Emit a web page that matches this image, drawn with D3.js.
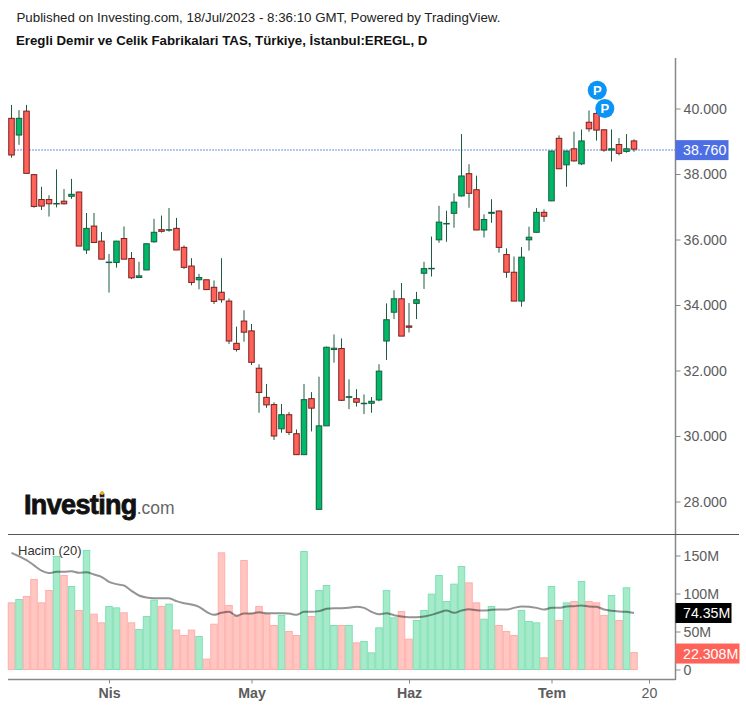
<!DOCTYPE html>
<html>
<head>
<meta charset="utf-8">
<script src="https://cdn.jsdelivr.net/npm/d3@7"></script>
<style>
  body { margin: 0; background: #fff; }
  text { font-family: "Liberation Sans", Arial, sans-serif; }
  .domain { display: none; }
  .tick line { stroke: #888; }
  .tick text { font-size: 14.2px; fill: #5c5c5c; }
</style>
</head>
<body>
<div id="chart"></div>
<script>
// candle values
var opens = [39.70,39.19,39.92,37.98,37.22,37.22,37.09,37.17,37.32,37.45,35.68,36.41,35.95,35.30,35.30,36.03,35.42,34.84,35.07,35.93,36.30,36.29,36.34,35.76,35.19,34.77,34.77,34.54,34.39,34.12,32.83,33.51,33.21,32.07,31.18,30.96,30.22,30.65,30.07,29.43,31.14,27.76,30.31,32.64,32.67,31.18,31.14,30.99,31.00,31.10,32.90,33.78,34.19,33.36,34.05,34.97,35.11,35.99,36.48,36.80,37.33,38.01,37.52,36.29,36.80,36.87,35.54,35.00,34.12,35.99,36.22,36.83,37.18,39.09,38.28,38.77,38.31,39.58,39.85,39.35,38.73,38.90,38.69,39.01];
var highs = [40.11,39.95,40.11,37.99,37.61,37.35,38.14,37.54,37.85,37.46,36.81,36.81,36.23,35.56,35.96,36.40,35.62,35.32,35.88,36.63,36.73,36.96,36.66,35.82,35.43,34.95,34.78,34.75,35.43,34.20,33.34,33.84,33.42,32.19,31.59,31.03,30.98,30.73,30.20,31.59,31.34,31.81,32.73,33.10,32.98,31.73,31.43,31.27,31.19,32.19,34.05,34.45,34.67,34.06,34.40,35.32,36.09,37.03,36.88,37.41,39.22,38.30,37.95,36.77,37.23,36.88,35.73,35.48,35.77,36.39,36.96,36.92,38.71,39.18,38.71,39.29,39.36,39.94,39.90,39.36,39.36,39.10,39.22,39.06];
var lows = [38.50,38.89,38.02,36.97,36.90,36.70,36.98,37.07,37.24,35.80,35.56,35.90,35.40,34.38,35.14,35.40,34.79,34.83,35.07,35.90,36.21,36.24,35.68,35.10,34.60,34.48,34.46,34.03,34.07,32.81,32.58,32.88,32.17,30.71,30.86,29.88,30.10,30.03,29.42,29.42,30.14,27.76,30.31,32.24,31.07,30.82,30.90,30.67,30.71,31.06,32.32,33.57,33.05,33.16,33.57,34.49,34.87,35.90,35.93,36.36,37.31,36.97,36.29,36.06,36.51,35.60,34.83,34.12,33.95,35.66,36.21,36.54,37.17,38.15,37.61,38.38,38.27,39.29,39.02,38.68,38.38,38.57,38.65,38.68];
var closes = [38.58,39.70,38.02,37.01,37.02,37.09,37.10,37.09,37.38,35.80,36.34,35.91,35.40,35.31,35.95,35.40,34.83,34.89,35.87,36.22,36.25,36.30,35.68,35.15,34.69,34.84,34.47,34.11,34.16,32.90,32.64,33.17,32.25,31.33,30.95,30.00,30.65,30.11,29.43,31.11,30.85,30.31,32.71,32.68,31.09,31.20,31.03,31.00,31.06,31.98,33.55,34.19,33.05,33.32,34.16,35.11,35.12,36.53,36.49,37.14,37.94,37.41,36.29,36.61,36.83,35.76,35.00,34.12,35.46,36.07,36.83,36.71,38.70,38.16,38.70,38.40,39.01,39.38,39.34,38.73,38.77,38.63,38.77,38.76];

// volume in millions and its 20 day average
var volumes = [87.7,92.1,96.1,118.4,87.7,103.9,148.7,123.7,109.2,77.6,156.6,72.8,61.4,82.9,81.1,74.6,61.4,52.6,69.7,91.2,82.9,86.0,51.8,44.7,51.8,43.4,13.6,59.6,153.5,84.2,70.2,143.4,73.2,82.9,72.8,57.9,71.1,50.0,44.7,155.3,69.7,103.9,110.5,57.9,57.9,57.9,35.1,36.8,21.9,54.8,103.9,68.0,76.3,39.9,64.5,77.6,99.1,123.7,89.5,112.3,135.5,114.0,87.7,66.2,82.9,57.9,50.0,44.7,77.6,63.2,61.4,15.4,109.2,64.5,87.7,89.5,115.8,89.5,87.7,71.1,97.4,64.5,107.5,22.3];
var volumeAvg = [153.5,149,144,137,130,127,128.5,128.5,129.4,127.2,128,125,122,115.4,112.3,110.5,103.5,97.4,94.7,93.9,93.9,93.9,89.9,87.3,85.5,82.5,75.9,71.9,74.6,75.9,70.6,73.7,73.7,75.4,74.1,74.1,74.1,73.7,71.9,75.9,75.9,76.8,79.8,80.7,80.7,81.1,82.5,81.1,75.9,72.8,74.1,71.5,69.7,68.9,68.9,69.7,71.9,75,77.6,74.6,77.6,79.4,78,77.6,78.5,78.9,78.9,81.1,82.9,82.5,81.1,78.9,81.1,81.1,82.9,83.3,84.2,82.9,82.5,78.9,77.2,76.3,75.9,74.35];

var priceTicks = [28,30,32,34,36,38,40];
var volumeTicks = [0,50,100,150];
var dateTicks = [13,32,53,72,85];
var dateLabels = ["Nis","May","Haz","Tem","20"];
var lastPrice = 38.76;
var lastVolume = 22.308;
var lastAvg = 74.35;
var pinIndex = [78,79];
var pinPrice = [40.56,40.0];

var svgWidth = 746;
var svgHeight = 707;
var axisX = 675.5;

var svg = d3.select("#chart")
  .append("svg")
  .attr("width", svgWidth)
  .attr("height", svgHeight)
  .style("display", "block");

// scales
var x = d3.scaleLinear().domain([0, 83]).range([11.5, 634]);
var y = d3.scaleLinear().domain([28, 40]).range([501.5, 108.5]);
var yVol = d3.scaleLinear().domain([0, 150]).range([669.5, 555.5]);

// header
svg.append("text").attr("x", 16.5).attr("y", 22)
  .style("font-size", "13.3px").attr("fill", "#222")
  .text("Published on Investing.com, 18/Jul/2023 - 8:36:10 GMT, Powered by TradingView.");
svg.append("text").attr("x", 16).attr("y", 45)
  .style("font-size", "13.25px").style("font-weight", "bold").attr("fill", "#111")
  .text("Eregli Demir ve Celik Fabrikalari TAS, Türkiye, İstanbul:EREGL, D");

// volume bars
var volGroup = svg.append("g").style("filter", "blur(0.3px)");
volGroup.selectAll("rect")
  .data(volumes)
  .enter()
  .append("rect")
  .attr("x", (d, i) => x(i) - 3.25)
  .attr("width", 6.5)
  .attr("y", d => yVol(d))
  .attr("height", d => yVol(0) - yVol(d))
  .attr("fill", (d, i) => closes[i] >= opens[i] ? "#a5ebc9" : "#ffc6c2")
  .attr("stroke", (d, i) => closes[i] >= opens[i] ? "#7fe0b5" : "#ffaeaa")
  .attr("stroke-width", 1);

// volume average
svg.append("path")
  .datum(volumeAvg)
  .attr("fill", "none")
  .attr("stroke", "#000")
  .attr("stroke-opacity", 0.42)
  .attr("stroke-width", 2)
  .attr("d", d3.line().x((d, i) => x(i)).y(d => yVol(d)).curve(d3.curveMonotoneX));

svg.append("text").attr("x", 18).attr("y", 555)
  .style("font-size", "13px").attr("fill", "#333")
  .text("Hacim (20)");

// last price line
svg.append("line")
  .attr("x1", 8).attr("x2", axisX)
  .attr("y1", y(lastPrice) + 0.9).attr("y2", y(lastPrice) + 0.9)
  .attr("stroke", "#6f8cea")
  .attr("stroke-width", 1.2)
  .attr("stroke-dasharray", "2,1");

// candles
var candles = svg.append("g").style("filter", "blur(0.4px)");
var idx = d3.range(opens.length);

candles.selectAll(".wick")
  .data(idx)
  .enter()
  .append("line")
  .attr("class", "wick")
  .attr("x1", d => x(d)).attr("x2", d => x(d))
  .attr("y1", d => y(highs[d])).attr("y2", d => y(lows[d]))
  .attr("stroke", "#1e5c41")
  .attr("stroke-width", 1);

candles.selectAll(".body")
  .data(idx)
  .enter()
  .append("rect")
  .attr("class", "body")
  .attr("x", d => x(d) - 2.75)
  .attr("width", 5.5)
  .attr("y", d => y(Math.max(opens[d], closes[d])))
  .attr("height", d => Math.max(0.5, Math.abs(y(opens[d]) - y(closes[d]))))
  .attr("fill", d => closes[d] >= opens[d] ? "#00b868" : "#ff6259")
  .attr("stroke", d => closes[d] >= opens[d] ? "#115f3e" : "#7c1f1f")
  .attr("stroke-width", 1);

// P markers
var pins = svg.selectAll(".pin")
  .data(pinIndex)
  .enter()
  .append("g")
  .attr("class", "pin")
  .attr("transform", (d, i) => `translate(${x(d) + 0.8}, ${y(pinPrice[i])})`);
pins.append("circle").attr("r", 9.5).attr("fill", "#0b93f6");
pins.append("text")
  .attr("text-anchor", "middle").attr("y", 4.5)
  .style("font-size", "13px").style("font-weight", "bold").attr("fill", "#fff")
  .text("P");

// axes
svg.append("g")
  .attr("transform", `translate(${axisX}, 0)`)
  .call(d3.axisRight(y).tickValues(priceTicks).tickFormat(d3.format(".3f")).tickSize(5).tickPadding(3));

svg.append("g")
  .attr("transform", `translate(${axisX}, 0)`)
  .call(d3.axisRight(yVol).tickValues(volumeTicks).tickFormat(d => d ? d + "M" : "0").tickSize(5).tickPadding(3));

var xAxisGroup = svg.append("g")
  .attr("transform", "translate(0, 679.5)")
  .call(d3.axisBottom(x).tickValues(dateTicks).tickFormat((d, i) => dateLabels[i]).tickSize(4).tickPadding(4));
xAxisGroup.selectAll("text")
  .style("font-weight", (d, i) => i < 4 ? "bold" : "normal");

// frame lines
svg.append("line").attr("x1", axisX).attr("x2", axisX).attr("y1", 58).attr("y2", 680)
  .attr("stroke", "#888").attr("stroke-width", 1.5);
svg.append("line").attr("x1", 8).attr("x2", axisX).attr("y1", 679.5).attr("y2", 679.5)
  .attr("stroke", "#888").attr("stroke-width", 1.5);
svg.append("line").attr("x1", 8).attr("x2", 739).attr("y1", 534.5).attr("y2", 534.5)
  .attr("stroke", "#555").attr("stroke-width", 1);

// value tags on the right
function addTag(yPos, tagWidth, bg, label) {
  svg.append("rect")
    .attr("x", axisX).attr("y", yPos - 10)
    .attr("width", tagWidth).attr("height", 20)
    .attr("fill", bg);
  svg.append("text")
    .attr("x", 683).attr("y", yPos + 5)
    .style("font-size", "14.2px").attr("fill", "#fff")
    .text(label);
}
addTag(y(lastPrice) + 1, 53, "#4e6fe3", d3.format(".3f")(lastPrice));
addTag(yVol(lastAvg), 56, "#000", lastAvg + "M");
addTag(yVol(lastVolume) + 1, 64, "#ff6259", lastVolume + "M");

// logo
var logo = svg.append("text").attr("x", 24).attr("y", 514);
logo.append("tspan")
  .style("font-size", "27px").style("font-weight", "bold").style("letter-spacing", "-0.65px")
  .attr("fill", "#111").attr("stroke", "#111").attr("stroke-width", 0.8)
  .text("Investing");
logo.append("tspan")
  .style("font-size", "17.5px").attr("fill", "#666")
  .text(".com");
svg.append("circle").attr("cx", 102).attr("cy", 493).attr("r", 2).attr("fill", "#f5a623");
</script>
</body>
</html>
